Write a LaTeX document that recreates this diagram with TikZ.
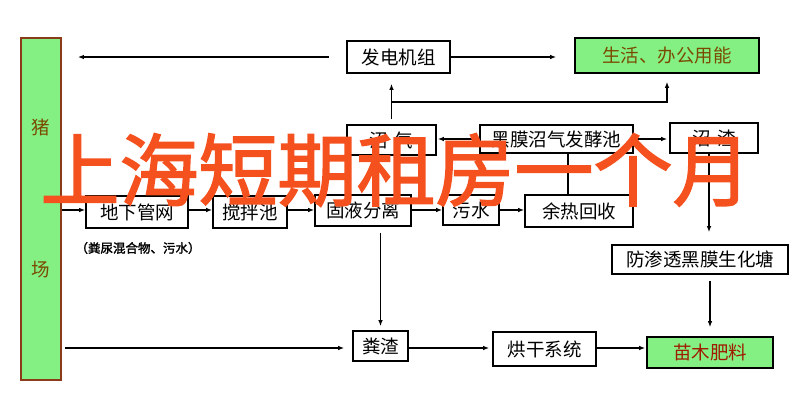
\documentclass[tikz,border=0pt]{standalone}
\usepackage{fontspec}
\newfontfamily\cjk{Noto Sans CJK SC}
\newfontfamily\cjkb{Noto Sans CJK SC}[FakeBold=2]
\usetikzlibrary{arrows.meta}
\definecolor{leaf}{HTML}{84F084}
\definecolor{farmline}{HTML}{8B3A1A}
\definecolor{olive}{HTML}{7A4A00}
\definecolor{rust}{HTML}{A01A00}
\definecolor{stamp}{HTML}{F4511E}
\begin{document}
\begin{tikzpicture}[x=1pt,y=-1pt,
  box/.style={draw,line width=1.6pt,inner sep=0pt,font=\cjk\fontsize{18.5}{18.5}\selectfont},
  greenbox/.style={box,fill=leaf},
  flow/.style={line width=1.2pt,-{Latex[length=6pt,width=4.5pt]}}]
\useasboundingbox (0,0) rectangle (797,405);
% farm bar
\node[draw=farmline,fill=leaf,line width=1.8pt,minimum width=40pt,minimum height=342pt,inner sep=0pt] (farm) at (41,209) {};
\node[text=olive,font=\cjk\fontsize{18.5}{18.5}\selectfont] (farmA) at (41,127) {猪};
\node[text=olive,font=\cjk\fontsize{18.5}{18.5}\selectfont] (farmB) at (41,270) {场};
% top rows
\node[box,minimum width=103pt,minimum height=32pt] (gen) at (398.5,57) {发电机组};
\node[greenbox,text=olive,minimum width=184pt,minimum height=35pt] (life) at (667,55.5) {生活、办公用能};
\node[box,minimum width=89pt,minimum height=30pt] (gas) at (391.5,140) {沼\,\,气};
\node[box,minimum width=153pt,minimum height=28pt] (pond) at (556.5,139) {黑膜沼气发酵池};
\node[box,minimum width=88pt,minimum height=30pt] (residue) at (714,138) {沼\,\,渣};
% middle row
\node[box,minimum width=102pt,minimum height=32pt] (net) at (137,212) {地下管网};
\node[box,minimum width=74pt,minimum height=32pt] (mix) at (250,212) {搅拌池};
\node[box,minimum width=96pt,minimum height=31pt] (sep) at (363,210.5) {固液分离};
\node[box,minimum width=56pt,minimum height=30pt] (water) at (471,210) {污水};
\node[box,minimum width=108pt,minimum height=32pt] (heat) at (579,211) {余热回收};
\node[font=\cjkb\fontsize{12.5}{12.5}\selectfont] (note) at (138,248) {（粪尿混合物、污水）};
\node[box,minimum width=176pt,minimum height=29pt] (bio) at (700,259.5) {防渗透黑膜生化塘};
% bottom row
\node[box,minimum width=55pt,minimum height=30pt] (dung) at (380.5,346) {粪渣};
\node[box,minimum width=103pt,minimum height=34pt] (dry) at (544.5,349) {烘干系统};
\node[greenbox,text=rust,minimum width=126pt,minimum height=31pt] (fert) at (710,352.5) {苗木肥料};
% connectors
\draw[flow,shorten <=17pt,shorten >=16pt] (gen.west) -- (gen.west -| farm.east);
\draw[flow,shorten >=18pt] (gen.east) -- (gen.east -| life.west);
\draw[flow,shorten <=5pt,shorten >=10pt] (gas.north) -- (gas.north |- gen.south);
\draw[flow,shorten >=8pt] (gas.north |- 0,102) -| (life.south);
\draw[flow,shorten >=1pt] (pond.west) -- (pond.west -| gas.east);
\draw[flow,shorten >=2pt] (pond.east) -- (pond.east -| residue.west);
\draw[flow,shorten >=12pt] ([xshift=-5pt]residue.south) -- ([xshift=-5pt]residue.south |- bio.north);
\draw[flow,shorten <=6pt,shorten >=9pt] (fert.north |- bio.south) -- (fert.north);
\draw[line width=1.2pt] ([xshift=11.5pt]pond.south) -- ([xshift=11.5pt]pond.south |- heat.north);
\draw[flow] (farm.east |- 0,210) -- (net.west |- 0,210);
\draw[flow] (net.east |- 0,210) -- (mix.west |- 0,210);
\draw[flow] (mix.east |- 0,210) -- (sep.west |- 0,210);
\draw[flow] (sep.east |- 0,210) -- (water.west |- 0,210);
\draw[flow] (water.east |- 0,210) -- (heat.west |- 0,210);
\draw[flow,shorten <=6pt,shorten >=4pt] (sep.south -| dung.north) -- (dung.north);
\draw[flow,shorten <=3pt,shorten >=8pt] (farm.east |- 0,348) -- (dung.west |- 0,348);
\draw[flow,shorten >=3pt] (dung.east |- 0,348) -- (dry.west |- 0,348);
\draw[flow,shorten >=1pt] (dry.east |- 0,348) -- (fert.west |- 0,348);
% overlay title
\node[text=stamp,font=\cjkb\fontsize{79}{79}\selectfont,inner sep=0pt] (stampline) at (396,170) {上海短期租房一个月};
\end{tikzpicture}
\end{document}
